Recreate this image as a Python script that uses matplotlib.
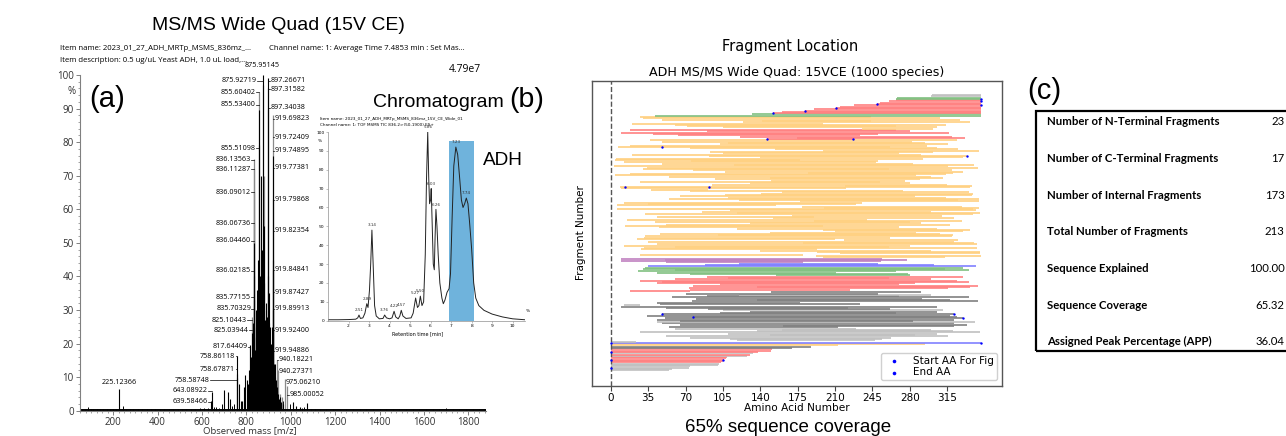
import matplotlib
matplotlib.use('Agg')
import matplotlib.pyplot as plt
from matplotlib.ticker import MultipleLocator
from matplotlib.patches import Rectangle

# ---------------- data: (a) MS/MS spectrum ----------------
black_mz = [639.58, 643.09, 700, 715, 727, 758.86, 767, 780, 788, 795, 803, 805, 808, 812, 815, 817.64,
            819, 821, 823, 825.04, 828, 830, 832, 834, 836.04, 839, 842, 844, 845, 847, 848, 851, 853,
            855.53, 856, 858, 861, 863, 866, 868, 870, 872, 873, 875.95, 876.5, 878, 881, 883, 884, 887,
            889, 890, 893, 895, 897.27, 898.5, 900, 902, 903, 906, 908, 909, 912, 915, 917, 919.70,
            920.5, 922, 925, 926, 928, 930, 932, 934, 936, 940, 943, 948, 952, 955, 963, 1010, 1025,
            1040, 1075, 225.12]
black_int = [3.0, 5.5, 6.2, 5.5, 3.5, 16.4, 8.0, 3.0, 7.0, 10.5, 9.0, 8.0, 6.0, 12.0, 9.0, 19.5,
             12.0, 14.0, 16.0, 23.0, 17.0, 20.0, 26.0, 15.0, 50.0, 18.0, 30.0, 25.0, 22.0, 19.0, 36.0, 27.0, 45.0,
             89.6, 35.0, 25.0, 40.0, 28.0, 70.0, 32.0, 48.0, 20.0, 30.0, 100.0, 40.0, 55.0, 38.0, 27.0, 20.0, 32.0,
             30.0, 18.0, 28.0, 22.0, 99.0, 40.0, 35.0, 26.0, 16.0, 25.0, 18.0, 14.0, 20.0, 12.0, 25.0, 76.0,
             45.0, 30.0, 14.0, 12.0, 10.0, 14.0, 8.0, 9.0, 6.0, 7.0, 5.0, 3.5, 4.0, 2.5, 2.0, 2.5, 1.5,
             1.2, 2.2, 6.5]
gray_mz = [758.59, 758.68, 817.0, 825.10, 835.70, 835.77, 836.02, 836.07, 836.09, 836.11, 836.14,
           855.51, 855.60, 875.93, 880, 897.32, 897.34, 919.75, 919.80, 919.85, 919.92, 940.18,
           940.27, 950, 960, 975.06, 985.0]
gray_int = [9.8, 11.0, 19.0, 28.0, 29.5, 33.0, 40.0, 56.0, 65.0, 72.0, 75.0,
            79.0, 95.0, 97.0, 70.0, 96.0, 90.0, 88.0, 63.0, 42.0, 24.0, 15.0,
            12.0, 5.0, 4.0, 9.5, 7.5]
noise_mz = [60, 72, 85, 98, 110, 125, 140, 155, 170, 185, 200, 212, 243, 258, 275, 290, 310, 330,
            350, 370, 390, 410, 430, 450, 470, 490, 510, 530, 550, 570, 590, 610, 625, 655, 665, 675,
            690, 735, 745, 775, 965, 995, 1050, 1060, 1090, 1110, 1130, 1160, 1190, 1220, 1250, 1280,
            1310, 1340, 1370, 1400, 1430, 1460, 1490, 1520, 1550, 1580, 1610, 1640, 1670, 1700, 1730,
            1760, 1790, 1820, 1850, 1870]
noise_int = [0.5, 0.4, 1.0, 0.5, 0.6, 0.4, 0.5, 0.4, 0.5, 0.4, 0.6, 0.5, 1.5, 0.5, 0.4, 0.5, 0.4, 0.5,
             0.4, 0.5, 0.4, 0.5, 0.4, 0.5, 0.4, 0.6, 0.5, 0.6, 0.5, 0.6, 0.7, 0.8, 0.8, 1.0, 1.2, 0.8,
             2.0, 1.5, 2.0, 3.0, 3.0, 2.0, 0.8, 1.0, 0.6, 0.5, 0.6, 0.5, 0.4, 0.5, 0.4, 0.5,
             0.4, 0.5, 0.4, 0.5, 0.4, 0.5, 0.4, 0.5, 0.4, 0.5, 0.4, 0.5, 0.4, 0.7, 0.5,
             0.4, 0.5, 0.4, 0.5, 0.4]
left_labels = ["875.92719", "855.60402", "855.53400", "855.51098", "836.13563", "836.11287",
               "836.09012", "836.06736", "836.04460", "836.02185", "835.77155", "835.70329",
               "825.10443", "825.03944", "817.64409", "758.86118", "758.67871", "758.58748",
               "643.08922", "639.58466"]
left_label_y = [98.3, 94.8, 91.1, 78.2, 74.7, 71.9, 65.0, 55.9, 50.7, 41.7, 33.8, 30.3,
                26.9, 23.9, 19.0, 16.2, 12.4, 9.0, 6.0, 2.6]
left_text_x = [846, 843, 843, 843, 821, 821, 821, 821, 821, 821, 821, 821,
               800, 810, 806, 750, 749, 632, 625, 626]
right_labels = ["897.26671", "897.31582", "897.34038", "919.69823", "919.72409", "919.74895",
                "919.77381", "919.79868", "919.82354", "919.84841", "919.87427", "919.89913",
                "919.92400", "919.94886", "940.18221", "940.27371", "975.06210", "985.00052"]
right_label_y = [98.3, 95.8, 90.3, 86.9, 81.4, 77.5, 72.4, 62.8, 53.6, 42.0, 35.3, 30.4,
                 23.9, 17.9, 15.2, 11.7, 8.5, 4.8]
right_text_x = [908, 908, 908, 928, 928, 928, 928, 928, 928, 928, 928, 928, 928, 928,
                946, 946, 978, 996]
top_label = "875.95145"
lone_label = "225.12366"

# ---------------- data: (b) chromatogram ----------------
chrom_t = [1.0, 1.5, 2.0, 2.35, 2.45, 2.51, 2.58, 2.7, 2.8, 2.89, 2.95, 3.02, 3.08, 3.14, 3.2,
           3.27, 3.35, 3.5, 3.68, 3.76, 3.85, 4.0, 4.12, 4.22, 4.3, 4.42, 4.5, 4.57, 4.65, 4.8,
           5.05, 5.15, 5.27, 5.36, 5.43, 5.50, 5.58, 5.66, 5.74, 5.80, 5.86, 5.91, 5.95, 6.0, 6.03,
           6.08, 6.13, 6.18, 6.22, 6.26, 6.31, 6.37, 6.45, 6.55, 6.62, 6.7, 6.8, 6.9, 6.97, 7.05,
           7.13, 7.23, 7.32, 7.42, 7.5, 7.58, 7.66, 7.74, 7.82, 7.9, 8.0, 8.1, 8.2, 8.35, 8.6,
           9.0, 9.5, 10.0, 10.6]
chrom_i = [0.5, 0.5, 0.6, 0.8, 1.5, 3.0, 1.2, 1.5, 4.0, 9.0, 7.0, 16, 30, 48, 30,
           8, 2.5, 1.0, 1.2, 3.0, 1.5, 1.0, 1.5, 5.0, 2.0, 1.0, 2.5, 5.5, 2.5, 1.2,
           1.5, 4.0, 12, 7, 8, 13, 8, 10, 35, 75, 100, 75, 62, 64, 70,
           50, 30, 27, 45, 59, 50, 35, 20, 12, 9, 11, 15, 17, 25, 55,
           82, 92, 88, 75, 64, 60, 62, 65, 62, 52, 38, 20, 12, 8, 5.5,
           3.5, 2.0, 1.0, 0.5]
peak_t = [2.51, 2.89, 3.14, 3.76, 4.22, 4.57, 5.27, 5.50, 5.86, 6.03, 6.26, 7.23, 7.74]
peak_h = [3, 9, 48, 3, 5, 5.5, 12, 13, 100, 70, 59, 92, 65]
adh_window = [6.88, 8.1]

# ---------------- data: fragment location ----------------
protein_len = 347
nterm_end = [55, 57, 73, 74, 100, 101, 103, 105, 106, 108, 109, 128, 130, 133, 138, 150, 151,
             170, 187, 213, 294, 347, 24]
nterm_color = "LLLLLLRRRRRLRLRRRDDOOBL"
cterm_start = [41, 132, 152, 160, 182, 190, 211, 215, 228, 249, 252, 260, 267, 267, 268, 300, 301]
cterm_color = "GGRRRRRRRRRRRGGLL"
internal_start = [
    118, 112, 74, 52, 149, 110, 27, 137, 160, 60,
    55, 161, 65, 48, 43, 65, 43, 51, 77, 34, 48, 102, 130, 105, 91, 52, 10, 12, 46, 43, 76, 137,
    80, 57, 90, 120, 70, 150,
    18, 74, 73, 137, 77, 102, 43, 48, 27, 60, 110, 90,
    155, 74, 43, 26, 60, 30, 32,
    35, 88, 120,
    52, 10, 51, 10,
    199, 192, 27,
    215, 193, 140, 28, 31, 60, 12, 43, 180, 35, 218, 25, 31, 32, 100, 46, 149, 210, 199, 118,
    45, 13, 52, 130, 41, 190, 15, 152, 43, 170, 32, 118, 85, 112, 6, 200, 179, 6, 35, 12,
    177, 120, 55, 110, 65, 107, 141, 160, 74, 38, 10, 9, 219, 95, 130, 27, 150, 98, 149, 55,
    4, 18, 185, 107, 77, 30, 34, 3, 115, 48, 12, 75, 4, 5, 140, 92, 20, 105,
    93, 199, 154, 74, 7, 18, 102, 110, 48, 37,
    146, 174, 121, 63, 40, 10, 90, 18,
    235, 105, 71, 60, 20, 124, 142, 48, 30, 27]
internal_end = [
    247, 254, 262, 316, 285, 305, 346, 320, 300, 230,
    213, 321, 333, 321, 341, 283, 321, 330, 324, 318, 321, 267, 305, 311, 261, 222, 305, 27, 233,
    177, 344, 318, 291, 335, 270, 300, 250, 290,
    74, 224, 316, 336, 344, 270, 285, 335, 324, 300, 260, 330,
    280, 278, 211, 267, 335, 313, 330,
    342, 303, 250,
    180, 253, 277, 254,
    313, 347, 180,
    346, 346, 300, 193, 343, 260, 280, 343, 340, 321, 325, 210, 261, 319, 320, 308, 286, 330, 336, 305,
    270, 199, 318, 290, 280, 329, 240, 321, 190, 310, 339, 346, 300, 342, 339, 345, 329, 155, 230, 235,
    345, 325, 345, 314, 285, 338, 339, 335, 274, 91, 220, 336, 338, 315, 280, 252, 275, 289, 311, 300,
    286, 314, 320, 330, 319, 260, 344, 316, 340, 283, 248, 250, 177, 292, 330, 333, 290, 270,
    302, 345, 325, 305, 261, 296, 316, 294, 282, 324,
    227, 332, 319, 233, 250, 317, 280, 267,
    302, 305, 267, 314, 199, 336, 244, 327, 308, 244]
internal_color = ("LLLLLLLLLL"
                  "DDDDLDDDDDDDDLDDDLDDDDDDDLDD"
                  "RRRRRRRRRRRR"
                  "GGGGGGG"
                  "BBB"
                  "PPPP"
                  + "O" * 91 + "RRRRRRRR" + "OOOOOOOOOO")
start_dot_row = [2, 8, 14, 21, 43, 41, 178, 141, 172, 198, 200, 202, 205]
start_dot_aa = [0, 0, 0, 0, 48, 77, 146, 13, 48, 152, 182, 211, 249]
end_dot_row = [21, 8, 43, 40, 178, 141, 165, 204, 207, 209]
end_dot_aa = [347, 105, 321, 330, 227, 92, 333, 347, 347, 347]
aa_ticks = [0, 35, 70, 105, 140, 175, 210, 245, 280, 315]

# ---------------- data: (c) table ----------------
table_labels = ["Number of N-Terminal Fragments", "Number of C-Terminal Fragments",
                "Number of Internal Fragments", "Total Number of Fragments",
                "Sequence Explained", "Sequence Coverage", "Assigned Peak Percentage (APP)"]
table_values = ["23", "17", "173", "213", "100.00", "65.32", "36.04"]

# ---------------- figure ----------------
W, H = 1286, 436
fig = plt.figure(figsize=(W / 100, H / 100), dpi=100)


def fx(x):
    return x / W


def fy(y):
    return 1 - y / H


def box(l, t, r, b):
    return [fx(l), fy(b), (r - l) / W, (b - t) / H]


SEG = 'Open Sans'
ARI = 'Liberation Sans'

# ===== panel (a) =====
axA = fig.add_axes(box(80, 75, 486, 410.7))
axA.set_xlim(50, 1880)
axA.set_ylim(0, 100)
axA.vlines(noise_mz, 0, noise_int, color='black', lw=0.7)
axA.vlines(gray_mz, 0, gray_int, color='#8a8a8a', lw=0.9)
axA.vlines(black_mz, 0, black_int, color='black', lw=0.8)
axA.plot([50, 1880], [0.2, 0.2], color='black', lw=1.4)
for s in ['top', 'right']:
    axA.spines[s].set_visible(False)
for s in ['left', 'bottom']:
    axA.spines[s].set_color('#808080')
    axA.spines[s].set_linewidth(0.8)
axA.set_xticks(range(200, 1801, 200))
axA.set_yticks(range(0, 101, 10))
axA.xaxis.set_minor_locator(MultipleLocator(25))
axA.yaxis.set_minor_locator(MultipleLocator(2))
axA.tick_params(which='major', length=3, width=0.7, color='#808080', labelsize=7, pad=1.5)
axA.tick_params(which='minor', length=1.5, width=0.5, color='#808080')
for lab in axA.get_xticklabels() + axA.get_yticklabels():
    lab.set_family(SEG)
    lab.set_color('#303030')
axA.text(-0.012, 0.95, '%', transform=axA.transAxes, ha='right', va='center',
         fontsize=7, family=SEG, color='#303030')
for lab, ly, tx in zip(left_labels, left_label_y, left_text_x):
    axA.text(tx, ly, lab, ha='right', va='center', fontsize=5.2, family=SEG)
    axA.plot([tx + 2, float(lab)], [ly, ly], color='black', lw=0.5)
for lab, ly, tx in zip(right_labels, right_label_y, right_text_x):
    axA.text(tx, ly, lab, ha='left', va='center', fontsize=5.2, family=SEG)
    axA.plot([float(lab), tx - 2], [ly, ly], color='black', lw=0.5)
axA.text(872, 101.8, top_label, ha='center', va='bottom', fontsize=5.2, family=SEG, clip_on=False)
axA.text(float(lone_label), 7.5, lone_label, ha='center', va='bottom', fontsize=5.2, family=SEG)
fig.text(fx(250), fy(435.6), 'Observed mass [m/z]', ha='center', va='bottom',
         fontsize=6.8, family=SEG, color='#303030')

fig.text(fx(278), fy(26), 'MS/MS Wide Quad (15V CE)', ha='center', va='center', fontsize=14, family=ARI)
fig.text(fx(60), fy(48), 'Item name: 2023_01_27_ADH_MRTp_MSMS_836mz_...', ha='left', va='center',
         fontsize=5.6, family=SEG)
fig.text(fx(269), fy(48), 'Channel name: 1: Average Time 7.4853 min : Set Mas...', ha='left', va='center',
         fontsize=5.6, family=SEG)
fig.text(fx(60), fy(61), 'Item description: 0.5 ug/uL Yeast ADH, 1.0 uL load,...', ha='left', va='center',
         fontsize=5.6, family=SEG)
fig.text(fx(481), fy(70), '4.79e7', ha='right', va='center', fontsize=7.5, family=SEG)
fig.text(fx(89), fy(99), '(a)', ha='left', va='center', fontsize=21, family=ARI)

# ===== panel (b) =====
axB = fig.add_axes(box(328, 132, 525, 320.7))
axB.set_xlim(1.0, 10.6)
axB.set_ylim(0, 100)
axB.axvspan(adh_window[0], adh_window[1], ymin=0, ymax=0.95, color='#6fb3dc', lw=0)
axB.plot(chrom_t, chrom_i, color='#222222', lw=0.7)
for s in ['top', 'right']:
    axB.spines[s].set_visible(False)
for s in ['left', 'bottom']:
    axB.spines[s].set_color('#909090')
    axB.spines[s].set_linewidth(0.5)
axB.set_xticks(range(2, 11))
axB.set_yticks(range(0, 101, 10))
axB.tick_params(length=1.5, width=0.4, color='#909090', labelsize=3.2, pad=1)
axB.text(-0.03, 0.95, '%', transform=axB.transAxes, ha='right', va='center', fontsize=3.2)
for t, h in zip(peak_t, peak_h):
    axB.text(t, h + 1.5, f'{t:.2f}', ha='center', va='bottom', fontsize=3, color='#303030')
axB.text(10.62, 5, '%', ha='left', va='center', fontsize=3.2, clip_on=False)
fig.text(fx(320), fy(119), 'Item name: 2023_01_27_ADH_MRTp_MSMS_836mz_15V_CE_Wide_01', fontsize=3,
         ha='left', va='center')
fig.text(fx(320), fy(125), 'Channel name: 1: TOF MSMS TIC 836.2>(50-1900) ES+', fontsize=3,
         ha='left', va='center')
fig.text(fx(418), fy(334), 'Retention time [min]', fontsize=3.5, ha='center', va='center')
fig.text(fx(373), fy(102), 'Chromatogram', ha='left', va='center', fontsize=14, family=ARI)
fig.text(fx(509), fy(100), '(b)', ha='left', va='center', fontsize=20.5, family=ARI)
fig.text(fx(483), fy(160), 'ADH', ha='left', va='center', fontsize=13.7, family=ARI)

# ===== fragment location panel =====
cmap = {'O': '#ffd080', 'R': '#ff8080', 'G': '#80c080', 'B': '#8080ff', 'P': '#c080c0',
        'D': '#808080', 'L': '#c0c0c0'}
axC = fig.add_axes(box(591.7, 80.7, 1002, 385.7))
axC.set_xlim(-17.8, 366.2)
axC.set_ylim(-12, 223)
rows_s, rows_e, rows_c = [], [], []
for e, c in zip(nterm_end, nterm_color):
    rows_s.append(0); rows_e.append(e); rows_c.append(cmap[c])
for s_, e, c in zip(internal_start, internal_end, internal_color):
    rows_s.append(s_); rows_e.append(e); rows_c.append(cmap[c])
for s_, c in zip(cterm_start, cterm_color):
    rows_s.append(s_); rows_e.append(protein_len); rows_c.append(cmap[c])
axC.hlines(range(len(rows_s)), rows_s, rows_e, colors=rows_c, lw=1.2, capstyle='butt')
axC.axvline(0, color='#555555', ls='--', lw=1)
axC.scatter(start_dot_aa, start_dot_row, s=3, color='blue', lw=0, zorder=4, label='Start AA For Fig')
axC.scatter(end_dot_aa, end_dot_row, s=3, color='blue', lw=0, zorder=4, label='End AA')
axC.set_xticks(aa_ticks)
axC.set_yticks([])
axC.tick_params(axis='x', labelsize=7.5, length=3.5, width=0.8, color='#444444', pad=2)
for s in axC.spines.values():
    s.set_color('#555555')
    s.set_linewidth(1)
leg = axC.legend(loc='lower right', fontsize=7.5, labelspacing=0.15, borderpad=0.3,
                 markerscale=1.5, framealpha=1, edgecolor='#d0d0d0')
fig.text(fx(580.5), fy(233), 'Fragment Number', rotation=90, ha='center', va='center', fontsize=7.5)
fig.text(fx(796.8), fy(407.7), 'Amino Acid Number', ha='center', va='center', fontsize=7.6)
fig.text(fx(790), fy(46.7), 'Fragment Location', ha='center', va='center', fontsize=10.5)
fig.text(fx(796.5), fy(72.7), 'ADH MS/MS Wide Quad: 15VCE (1000 species)', ha='center', va='center',
         fontsize=9.1)
fig.text(fx(788), fy(432), '65% sequence coverage', ha='center', va='baseline', fontsize=13.5, family=ARI)

# ===== panel (c) table =====
fig.text(fx(1027), fy(91), '(c)', ha='left', va='center', fontsize=21, family=ARI)
fig.patches.append(Rectangle((fx(1035.7), fy(350.7)), fx(1300) - fx(1035.7), fy(110.7) - fy(350.7),
                             transform=fig.transFigure, fill=False, lw=1.6, edgecolor='black'))
for k, (lab, val) in enumerate(zip(table_labels, table_values)):
    yy = 121.7 + k * 36.67
    fig.text(fx(1047.3), fy(yy), lab, ha='left', va='center', fontsize=8.2, family='Lato',
             fontweight='bold')
    fig.text(fx(1284.5), fy(yy), val, ha='right', va='center', fontsize=8.2, family='Lato')

fig.savefig('out.png', dpi=100)
